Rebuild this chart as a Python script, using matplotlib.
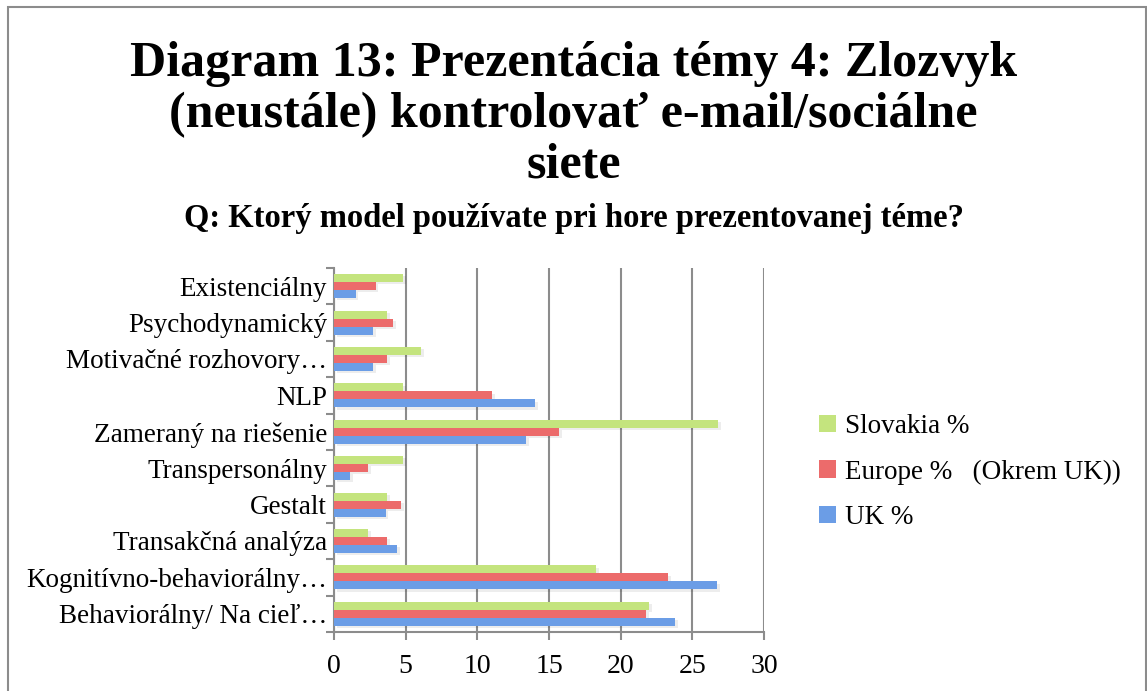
import matplotlib
matplotlib.use("Agg")
import matplotlib.pyplot as plt
import matplotlib.patches as mpatches
import numpy as np

plt.rcParams['font.family'] = ['Liberation Serif', 'DejaVu Serif']

categories = ["Existenciálny", "Psychodynamický", "Motivačné rozhovory…", "NLP",
              "Zameraný na riešenie", "Transpersonálny", "Gestalt",
              "Transakčná analýza", "Kognitívno-behaviorálny…", "Behaviorálny/ Na cieľ…"]
slovakia = [4.8, 3.7, 6.1, 4.8, 26.8, 4.8, 3.7, 2.4, 18.3, 22.0]
europe = [2.9, 4.1, 3.7, 11.0, 15.7, 2.4, 4.7, 3.7, 23.3, 21.8]
uk = [1.5, 2.7, 2.7, 14.0, 13.4, 1.1, 3.6, 4.4, 26.7, 23.8]
series_names = ["Slovakia %", "Europe %   (Okrem UK))", "UK %"]
colors = ["#c4e47e", "#ec6b6b", "#6b9de6"]
xticks = [0, 5, 10, 15, 20, 25, 30]

fig = plt.figure(figsize=(11.47, 6.91), dpi=100)
fig.patches.append(mpatches.Rectangle((8 / 1147, -0.05), 1138 / 1147, 1.05 - 7 / 691,
                                      transform=fig.transFigure, fill=False,
                                      edgecolor="#8c8c8c", linewidth=1.5))

fig.text(0.5, 1 - 64 / 691, "Diagram 13: Prezentácia témy 4: Zlozvyk", ha="center", va="center",
         fontsize=36, fontweight="bold")
fig.text(0.5, 1 - 115 / 691, "(neustále) kontrolovať e-mail/sociálne", ha="center", va="center",
         fontsize=36, fontweight="bold")
fig.text(0.5, 1 - 166 / 691, "siete", ha="center", va="center", fontsize=36, fontweight="bold")
fig.text(0.5, 1 - 219 / 691, "Q: Ktorý model používate pri hore prezentovanej téme?", ha="center",
         va="center", fontsize=23.5, fontweight="bold")

ax = fig.add_axes([334 / 1147, 59 / 691, 430 / 1147, 364 / 691])

n = len(categories)
y = np.arange(n)[::-1]
h = 0.22
data = [slovakia, europe, uk]
offsets = [h, 0, -h]
handles = []
for vals, off, col, name in zip(data, offsets, colors, series_names):
    # soft shadow
    ax.barh(y + off - 0.06, vals, height=h, left=0.2, color="#000000", alpha=0.07,
            zorder=2)
    b = ax.barh(y + off, vals, height=h, color=col, zorder=3, label=name)
    handles.append(b)

ax.set_xlim(0, 30)
ax.set_ylim(-0.5, n - 0.5)
ax.set_xticks(xticks)
ax.set_xticklabels([str(t) for t in xticks], fontsize=20)
ax.set_yticks(y)
ax.set_yticklabels(categories, fontsize=19.5)
ax.set_yticks(np.arange(-0.5, n, 1), minor=True)
ax.tick_params(axis="y", which="major", length=0, pad=5)
ax.tick_params(axis="y", which="minor", length=6, color="#8c8c8c", width=1.5)
ax.tick_params(axis="x", length=6, color="#8c8c8c", width=1.5, pad=10)
ax.grid(axis="x", color="#8c8c8c", linewidth=1.5, zorder=0)
ax.set_axisbelow(True)
for s in ["top", "right"]:
    ax.spines[s].set_visible(False)
for s in ["left", "bottom"]:
    ax.spines[s].set_color("#8c8c8c")
    ax.spines[s].set_linewidth(1.5)

fig.legend(handles, series_names, loc="center left", bbox_to_anchor=(795 / 1147, 1 - 472 / 691),
           frameon=False, fontsize=19.5, handlelength=0.6, handleheight=0.6,
           handletextpad=0.35, labelspacing=0.75)

fig.savefig("out.png", dpi=100)
